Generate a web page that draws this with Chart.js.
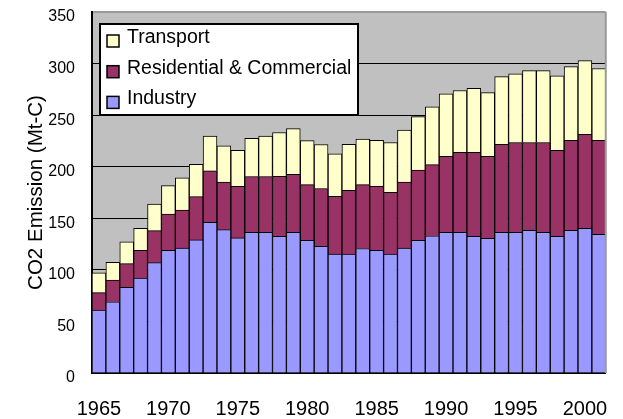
<!DOCTYPE html>
<html lang="en">
<head>
  <meta charset="UTF-8">
  <title>CO2 Emission by Sector</title>
  <style>
    body { margin: 0; background: #fff; }
    #wrap { width: 623px; height: 419px; }
  </style>
</head>
<body>
  <div id="wrap"><canvas id="grafico" width="623" height="419"></canvas></div>
  <script src="https://cdn.jsdelivr.net/npm/chart.js"></script>
  <script>
    const anos = [1965, 1966, 1967, 1968, 1969, 1970, 1971, 1972, 1973, 1974, 1975, 1976, 1977,
      1978, 1979, 1980, 1981, 1982, 1983, 1984, 1985, 1986, 1987, 1988, 1989, 1990, 1991,
      1992, 1993, 1994, 1995, 1996, 1997, 1998, 1999, 2000, 2001];

    const industria = [61, 69, 83, 92, 107, 119, 121, 129, 146, 139, 131, 136.5, 136.5,
      132.6, 136.5, 128.7, 122.9, 115.2, 115.2, 120.7, 119, 115.2, 121, 128.7, 133, 136.5, 136.5,
      132.6, 130.6, 136.5, 136.5, 138.4, 136.5, 132.6, 138.4, 140.3, 134.5];

    const residencial = [17, 21, 23, 27, 31, 35, 37, 42, 50, 46, 50, 54, 54,
      58, 56, 54, 56, 56, 62, 62, 62, 60, 64, 68, 69, 73.5, 77.4,
      81.3, 79.4, 85.1, 87, 85.1, 87, 83.2, 87.1, 91, 91];

    const transporte = [19, 17.4, 21.2, 21.3, 25.8, 27.7, 31.3, 31.2, 33.8, 35.2, 34.8, 36.9, 39.2,
      42.6, 44.5, 42.6, 42.6, 41.3, 44.5, 44.2, 44.5, 48.3, 50.4, 51.8, 56.1, 60.7, 60,
      62.2, 61.9, 65.8, 66.5, 69.7, 69.7, 72.2, 71.6, 71.6, 69.7];

    const fonte = "'Liberation Sans', Arial, sans-serif";

    // fundo cinza, borda direita e legenda dentro da area do grafico
    const extras = {
      id: 'extras',
      beforeDraw(chart) {
        const a = chart.chartArea, ctx = chart.ctx;
        ctx.save();
        ctx.fillStyle = '#c0c0c0';
        ctx.fillRect(a.left, a.top, a.right - a.left, a.bottom - a.top);
        ctx.restore();
      },
      afterDraw(chart) {
        const a = chart.chartArea, ctx = chart.ctx;
        ctx.save();
        ctx.strokeStyle = '#999999';
        ctx.lineWidth = 2;
        ctx.beginPath();
        ctx.moveTo(a.right, a.top);
        ctx.lineTo(a.right, a.bottom);
        ctx.stroke();

        const bx = a.left + 8, by = 24, bw = 258, bh = 91;
        ctx.fillStyle = '#ffffff';
        ctx.fillRect(bx, by, bw, bh);
        ctx.strokeStyle = '#000';
        ctx.lineWidth = 2;
        ctx.strokeRect(bx, by, bw, bh);

        const ds = chart.data.datasets.slice().reverse();
        ctx.font = '19.5px ' + fonte;
        ctx.textBaseline = 'alphabetic';
        ds.forEach((d, i) => {
          const cy = 41 + i * 30.7;
          ctx.fillStyle = d.backgroundColor;
          ctx.fillRect(bx + 7, cy - 6, 12, 12);
          ctx.lineWidth = 1.5;
          ctx.strokeStyle = '#000';
          ctx.strokeRect(bx + 7, cy - 6, 12, 12);
          ctx.fillStyle = '#000';
          ctx.fillText(d.label, bx + 27, cy + 2);
        });
        ctx.restore();
      }
    };

    new Chart(document.getElementById('grafico'), {
      type: 'bar',
      data: {
        labels: anos,
        datasets: [
          { label: 'Industry', data: industria, backgroundColor: '#9999ff' },
          { label: 'Residential & Commercial', data: residencial, backgroundColor: '#993366' },
          { label: 'Transport', data: transporte, backgroundColor: '#ffffcc' }
        ]
      },
      options: {
        responsive: false,
        animation: false,
        layout: { padding: { left: 18, top: 12, right: 14, bottom: 0 } },
        datasets: {
          bar: { borderColor: '#000', borderWidth: 1, barPercentage: 1, categoryPercentage: 1 }
        },
        plugins: { legend: { display: false }, tooltip: { enabled: false } },
        scales: {
          x: {
            stacked: true,
            grid: { display: false, drawTicks: false },
            border: { color: '#000', width: 2 },
            afterFit(s) { s.height = 46; },
            ticks: {
              autoSkip: false,
              maxRotation: 0,
              padding: 24,
              color: '#000',
              font: { family: fonte, size: 20 },
              callback(v, i) { return i % 5 === 0 ? this.getLabelForValue(v) : ''; }
            }
          },
          y: {
            stacked: true,
            min: 0,
            max: 350,
            afterFit(s) { s.width = 74; s.paddingTop = 0; s.paddingBottom = 0; },
            grid: {
              color: (c) => c.tick && c.tick.value === 350 ? '#999999' : '#000',
              lineWidth: (c) => c.tick && c.tick.value === 350 ? 2 : 1,
              drawTicks: false
            },
            border: { color: '#000', width: 2 },
            ticks: {
              stepSize: 50,
              padding: 17,
              labelOffset: 5,
              color: '#000',
              font: { family: fonte, size: 16 }
            },
            title: {
              display: true,
              text: 'CO2 Emission (Mt-C)',
              color: '#000',
              font: { family: fonte, size: 20.5 },
              padding: { top: 6, bottom: 0 }
            }
          }
        }
      },
      plugins: [extras]
    });
  </script>
</body>
</html>
